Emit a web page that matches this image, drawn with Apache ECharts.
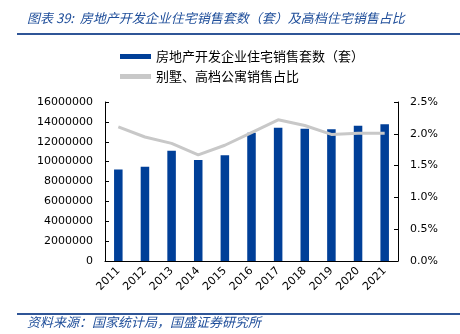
<!DOCTYPE html>
<html><head><meta charset="utf-8">
<script src="https://cdn.jsdelivr.net/npm/echarts@6/dist/echarts.min.js"></script>
<style>html,body{margin:0;padding:0;background:#fff}#c{width:460px;height:334px}</style>
</head><body><div id="c"></div>
<script>
const years = ['2011','2012','2013','2014','2015','2016','2017','2018','2019','2020','2021'];
const salesUnits = [9220000,9490000,11100000,10160000,10630000,12900000,13400000,13300000,13250000,13600000,13750000];
const luxuryShare = [2.11,1.95,1.85,1.67,1.82,2.02,2.22,2.13,1.99,2.01,2.01];
const barName = '房地产开发企业住宅销售套数（套）';
const lineName = '别墅、高档公寓销售占比';
const titleText = '图表 39:  房地产开发企业住宅销售套数（套）及高档住宅销售占比';
const sourceText = '资料来源：国家统计局，国盛证券研究所';

const chart = echarts.init(document.getElementById('c'));
const axisFont = {fontFamily:'DejaVu Sans', fontSize:11, color:'#000'};
chart.setOption({
  animation:false,
  graphic:[
    {type:'text', left:27, top:12, style:{text:titleText, font:'italic 13px "Noto Sans CJK SC"', fill:'#1f4e9a'}},
    {type:'rect', shape:{x:17,y:33,width:443,height:2}, style:{fill:'#2f5597'}},
    {type:'rect', shape:{x:17,y:313,width:443,height:2}, style:{fill:'#2f5597'}},
    {type:'text', left:27, top:316, style:{text:sourceText, font:'italic 13px "Noto Sans CJK SC"', fill:'#1f4e9a'}}
  ],
  legend:{
    orient:'vertical', left:120, top:50, itemGap:7, padding:0,
    itemWidth:31, itemHeight:5,
    textStyle:{fontFamily:'Noto Sans CJK SC', fontSize:13, color:'#000'},
    data:[{name:barName, icon:'rect'},{name:lineName, icon:'rect', itemStyle:{color:'#c8c8c8'}}]
  },
  grid:{left:105, right:62, top:102, bottom:73},
  xAxis:{
    type:'category', data:years,
    axisLine:{lineStyle:{color:'#000'}},
    axisTick:{inside:true, length:4, lineStyle:{color:'#000'}},
    axisLabel:Object.assign({rotate:45, margin:8}, axisFont)
  },
  yAxis:[
    {type:'value', min:0, max:16000000, interval:2000000,
     axisLine:{show:true, lineStyle:{color:'#000'}},
     axisTick:{show:true, inside:true, length:4, lineStyle:{color:'#000'}},
     splitLine:{show:false},
     axisLabel:Object.assign({margin:12, formatter:v=>String(v)}, axisFont)},
    {type:'value', min:0, max:2.5, interval:0.5,
     axisLine:{show:true, lineStyle:{color:'#000'}},
     axisTick:{show:true, inside:true, length:4, lineStyle:{color:'#000'}},
     splitLine:{show:false},
     axisLabel:Object.assign({margin:12, formatter:v=>v.toFixed(1)+'%'}, axisFont)}
  ],
  series:[
    {name:barName, type:'bar', data:salesUnits, barWidth:'32%', itemStyle:{color:'#003f98'}},
    {name:lineName, type:'line', yAxisIndex:1, data:luxuryShare, symbol:'none',
     lineStyle:{color:'#c8c8c8', width:3}, itemStyle:{color:'#c8c8c8'}}
  ]
});
</script></body></html>
